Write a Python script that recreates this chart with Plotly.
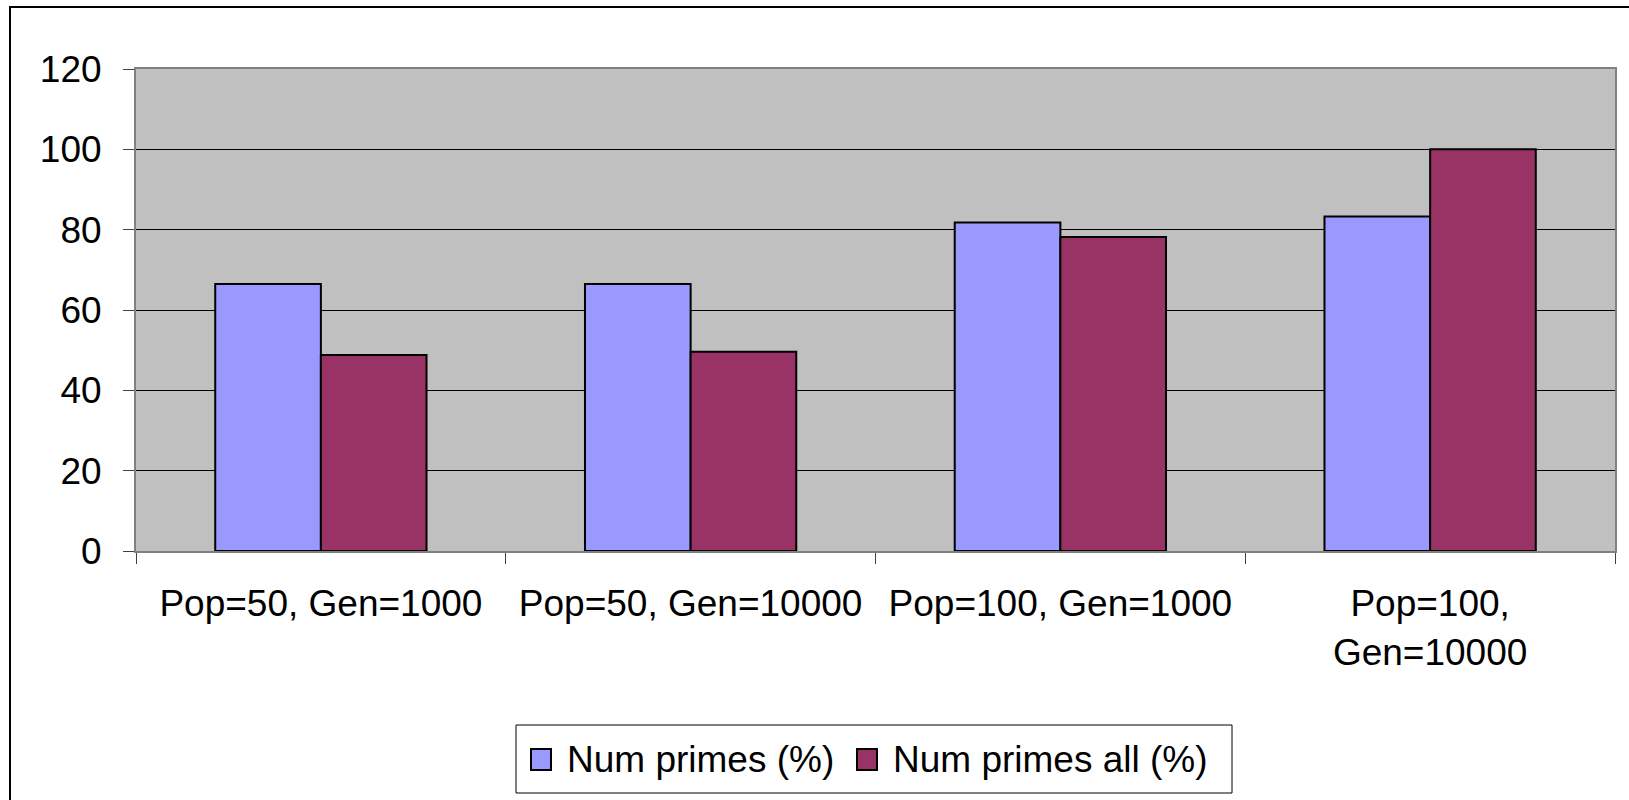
import plotly.graph_objects as go

# Chart data
categories = ["Pop=50, Gen=1000", "Pop=50, Gen=10000", "Pop=100, Gen=1000", "Pop=100,<br>Gen=10000"]
series_names = ["Num primes (%)", "Num primes all (%)"]
num_primes = [66.5, 66.5, 81.8, 83.3]
num_primes_all = [48.8, 49.6, 78.2, 100.0]
y_ticks = [0, 20, 40, 60, 80, 100, 120]

colors = ["#9999FF", "#993366"]
FONT = "Liberation Sans, Arial, sans-serif"
FS = 37

W, H = 1629, 800
L, R, T, B = 136, 14, 69, 249
PW, PH = W - L - R, H - T - B


def px(x):
    return (x - L) / PW


def py(y):
    return (H - B - y) / PH


fig = go.Figure()
for name, vals, col in zip(series_names, [num_primes, num_primes_all], colors):
    fig.add_trace(go.Bar(
        x=categories, y=vals, name=name, showlegend=False,
        marker=dict(color=col, line=dict(color="black", width=2)),
    ))

shapes = [
    # outer chart frame
    dict(type="rect", xref="paper", yref="paper",
         x0=px(10), x1=px(W + 20), y0=py(H + 20), y1=py(7),
         line=dict(color="black", width=2), fillcolor="rgba(0,0,0,0)", layer="below"),
    # legend box
    dict(type="rect", xref="paper", yref="paper",
         x0=px(516), x1=px(1232), y0=py(793), y1=py(725),
         line=dict(color="black", width=1), fillcolor="white"),
]
annotations = []
legend_items = [(531, 565), (857, 891)]
for (sx, tx), name, col in zip(legend_items, series_names, colors):
    shapes.append(dict(type="rect", xref="paper", yref="paper",
                       x0=px(sx), x1=px(sx + 20), y0=py(770), y1=py(749),
                       line=dict(color="black", width=2), fillcolor=col))
    annotations.append(dict(text=name, xref="paper", yref="paper",
                            x=px(tx), y=py(759), xanchor="left", yanchor="middle",
                            showarrow=False, font=dict(family=FONT, size=FS, color="black")))

fig.update_layout(
    width=W, height=H,
    margin=dict(l=L, r=R, t=T, b=B, autoexpand=False),
    paper_bgcolor="white", plot_bgcolor="#C0C0C0",
    barmode="group", bargap=1.5 / 3.5, bargroupgap=0,
    font=dict(family=FONT, size=FS, color="black"),
    shapes=shapes, annotations=annotations,
    xaxis=dict(
        type="category", tickson="boundaries", ticks="outside", ticklen=11,
        tickcolor="#404040", tickwidth=1, showgrid=False,
        showline=True, linecolor="#808080", linewidth=2, mirror=True,
        tickfont=dict(family=FONT, size=FS, color="black"), tickangle=0,
        ticklabelstandoff=19,
    ),
    yaxis=dict(
        range=[0, 120], tickvals=y_ticks, ticks="outside", ticklen=11,
        tickcolor="#404040", tickwidth=1,
        showgrid=True, gridcolor="black", gridwidth=1, zeroline=False,
        showline=True, linecolor="#808080", linewidth=2, mirror=True,
        tickfont=dict(family=FONT, size=FS, color="black"),
        ticklabelstandoff=14,
    ),
)

fig.write_html("out.html")
